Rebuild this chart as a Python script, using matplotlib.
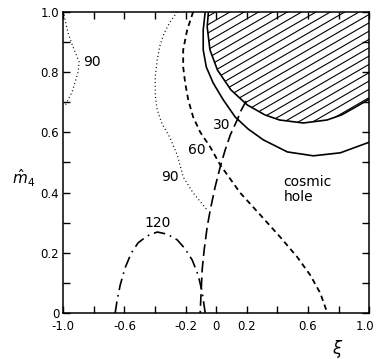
import numpy as np
import matplotlib
matplotlib.use("Agg")
import matplotlib.pyplot as plt
from matplotlib.patches import Polygon
from matplotlib.collections import LineCollection
from matplotlib.transforms import ScaledTranslation

# curves (xi, m4)
hole_xi = [-0.051, -0.059, -0.041, 0.008, 0.096, 0.203, 0.318, 0.414, 0.570,
           0.725, 0.821, 0.936, 1.0]
hole_m = [1.0, 0.950, 0.874, 0.807, 0.741, 0.691, 0.658, 0.641, 0.631,
          0.641, 0.658, 0.691, 0.710]

solid_xi = [-0.072, -0.085, -0.085, -0.065, -0.020, 0.046, 0.124, 0.209,
            0.308, 0.465, 0.635, 0.812, 1.0]
solid_m = [1.0, 0.940, 0.874, 0.817, 0.764, 0.708, 0.651, 0.611,
           0.575, 0.535, 0.522, 0.532, 0.567]

c30_xi = [0.196, 0.164, 0.137, 0.092, 0.059, 0.026, -0.007, -0.039, -0.059,
          -0.079, -0.092, -0.098, -0.105]
c30_m = [0.704, 0.674, 0.641, 0.591, 0.542, 0.485, 0.419, 0.342, 0.286,
         0.209, 0.143, 0.076, 0.0]

c60_xi = [-0.151, -0.190, -0.216, -0.216, -0.203, -0.183, -0.151, -0.105,
          -0.039, 0.026, 0.157, 0.288, 0.419, 0.530, 0.615, 0.681, 0.727]
c60_m = [1.0, 0.940, 0.874, 0.817, 0.764, 0.708, 0.651, 0.601,
         0.551, 0.492, 0.399, 0.326, 0.252, 0.186, 0.126, 0.066, 0.0]

c90a_xi = [-0.995, -0.982, -0.969, -0.949, -0.923, -0.897, -0.903, -0.923,
           -0.943, -0.969, -0.989]
c90a_m = [0.990, 0.957, 0.930, 0.900, 0.867, 0.834, 0.801, 0.767,
          0.734, 0.708, 0.688]

c90b_xi = [-0.255, -0.301, -0.340, -0.367, -0.386, -0.399, -0.399, -0.386,
           -0.354, -0.301, -0.255, -0.216, -0.151, -0.059]
c90b_m = [1.0, 0.967, 0.930, 0.890, 0.841, 0.784, 0.724, 0.674,
          0.628, 0.581, 0.525, 0.452, 0.399, 0.342]

c120_xi = [-0.661, -0.648, -0.628, -0.596, -0.556, -0.511, -0.452, -0.386,
           -0.321, -0.255, -0.203, -0.157, -0.118, -0.092, -0.072]
c120_m = [0.0, 0.043, 0.093, 0.150, 0.199, 0.233, 0.256, 0.269,
          0.262, 0.243, 0.213, 0.176, 0.126, 0.070, 0.0]

labels = ["90", "90", "60", "30", "120"]
label_xi = [-0.812, -0.301, -0.124, 0.039, -0.386]
label_m = [0.834, 0.452, 0.542, 0.625, 0.299]

fig = plt.figure(figsize=(3.77, 3.59), dpi=100)
ax = fig.add_axes([0.168, 0.128, 0.811, 0.839])

# hatched cosmic-hole region
poly = Polygon(list(zip(hole_xi, hole_m)) + [(1.0, 1.0)], closed=True,
               facecolor="none", edgecolor="none")
ax.add_patch(poly)
offs = np.arange(-0.6, 1.3, 0.0276)
segs = [[(-0.2, c - 0.2 * 0.294), (1.1, c + 1.1 * 0.294)] for c in offs]
lc = LineCollection(segs, colors="black", linewidths=0.8)
ax.add_collection(lc)
lc.set_clip_path(poly)
ax.plot(hole_xi, hole_m, color="black", lw=1.2)

ax.plot(solid_xi, solid_m, color="black", lw=1.2)
ax.plot(c30_xi, c30_m, color="black", lw=1.2, dashes=(7, 3))
ax.plot(c60_xi, c60_m, color="black", lw=1.3, dashes=(3, 2.2))
ax.plot(c90a_xi, c90a_m, color="black", lw=0.9, dashes=(0.8, 2.2))
ax.plot(c90b_xi, c90b_m, color="black", lw=0.9, dashes=(0.8, 2.2))
ax.plot(c120_xi, c120_m, color="black", lw=1.2, dashes=(7, 3, 1, 3))

for t, x, y in zip(labels, label_xi, label_m):
    ax.text(x, y, t, fontsize=10, ha="center", va="center")

ax.text(0.44, 0.41, "cosmic\nhole", fontsize=10, ha="left", va="center",
        linespacing=1.1)

ax.set_xlim(-1.0, 1.0)
ax.set_ylim(0, 1.0)

xt = np.arange(-1.0, 1.01, 0.2)
xl = ["-1.0", "", "-0.6", "", "-0.2", "0", "0.2", "", "0.6", "", "1.0"]
ax.set_xticks(xt)
ax.set_xticklabels(xl)
yt = np.arange(0, 1.01, 0.1)
yl = ["0", "", "0.2", "", "0.4", "", "0.6", "", "0.8", "", "1.0"]
ax.set_yticks(yt)
ax.set_yticklabels(yl)
ax.tick_params(direction="in", top=True, right=True, length=5, width=1,
               labelsize=8.5)
ax.tick_params(axis="x", pad=5)
ax.tick_params(axis="y", pad=3)
for s in ax.spines.values():
    s.set_linewidth(1.1)

last = ax.get_xticklabels()[-1]
last.set_transform(last.get_transform() +
                   ScaledTranslation(-3 / 72, 0, fig.dpi_scale_trans))

ax.text(0.899, -0.118, r"$\xi$", transform=ax.transAxes, fontsize=12,
        ha="center", va="center")
ax.text(-0.129, 0.449, r"$\hat{m}_4$", transform=ax.transAxes, fontsize=11,
        ha="center", va="center")

fig.savefig("out.png", dpi=100)
